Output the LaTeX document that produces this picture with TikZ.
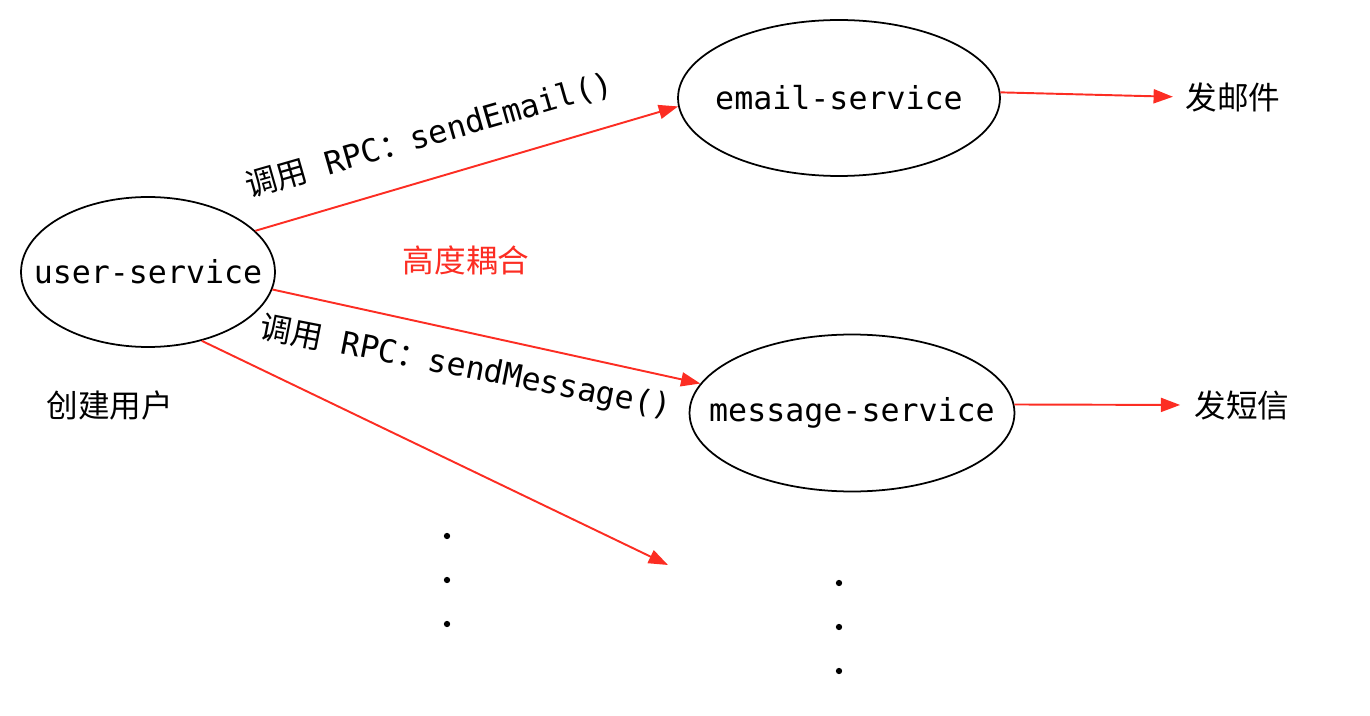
\documentclass[tikz,border=0pt]{standalone}
\usepackage{fontspec}
\setmainfont{DejaVu Sans Mono}
\newfontfamily\cjk{Noto Sans CJK SC}
\usetikzlibrary{shapes.geometric, arrows.meta}
\definecolor{rpcred}{RGB}{252,45,35}
\tikzset{
	svc/.style={draw, ellipse, line width=1pt, inner sep=0pt, font=\fontsize{18}{22}\selectfont},
	call/.style={draw=rpcred, line width=1.1pt, -{Triangle[length=11pt,width=8pt]}},
	txt/.style={font=\fontsize{18}{22}\selectfont, inner sep=2pt},
}

\begin{document}
\begin{tikzpicture}[x=0.02cm, y=-0.02cm]
	\useasboundingbox (0,0) rectangle (1370,716);
	% services
	\node[svc, minimum width=5.08cm, minimum height=3cm] (user) at (148,272) {\makebox[0pt]{user-service}};
	\node[svc, minimum width=6.44cm, minimum height=3.12cm] (email) at (839,98) {\makebox[0pt]{email-service}};
	\node[svc, minimum width=6.5cm, minimum height=3.14cm] (message) at (852,413) {\makebox[0pt]{message-service}};
	% texts
	\node[txt] (create) at (110,405) {\cjk 创建用户};
	\node[txt, text=rpcred] (coupling) at (466,260) {\cjk 高度耦合};
	\node[txt] (mail) at (1233,97) {\cjk 发邮件};
	\node[txt] (sms) at (1242,405) {\cjk 发短信};
	\node[txt, rotate=16] (lblmail) at (429,135) {{\cjk 调用} RPC{\cjk ：}sendEmail()};
	\node[txt, rotate=-11] (lblmsg) at (466,368) {{\cjk 调用} RPC{\cjk ：}sendMessage()};
	\coordinate (more) at (668,565);
	% calls
	\draw[call] (user.21) -- (email.183);
	\draw[call] (user.-8) -- (message.169);
	\draw[call] (user.-52) -- (more);
	\draw[call, shorten >=5pt] (email.2) -- (mail.west);
	\draw[call, shorten >=6pt] (message.3) -- (sms.west);
	% more services
	\foreach \y in {536,580,624}
		\fill (447,\y) circle (1.8pt);
	\foreach \y in {583,627,671}
		\fill (839,\y) circle (1.8pt);
\end{tikzpicture}
\end{document}
